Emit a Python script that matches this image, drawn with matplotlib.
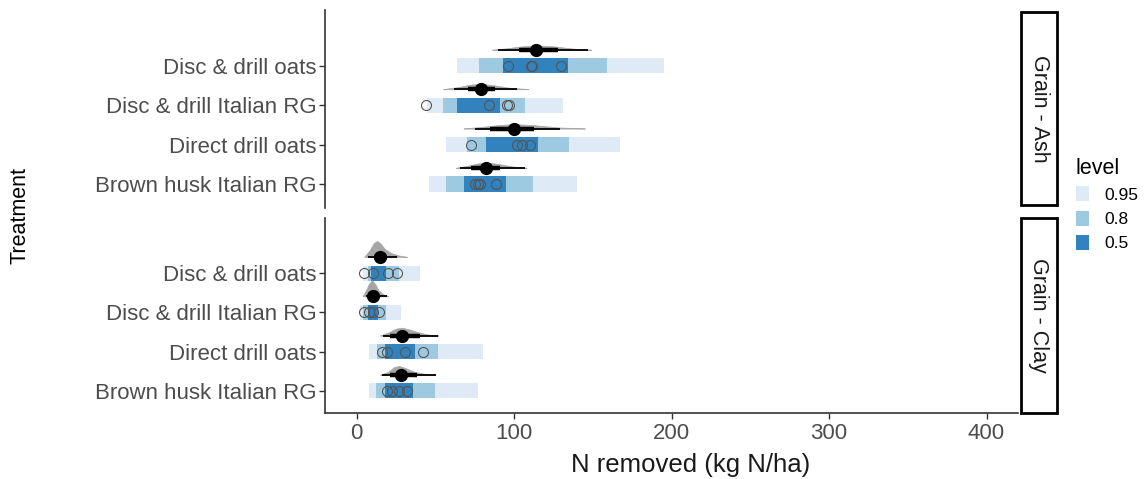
import matplotlib
matplotlib.use('Agg')
import matplotlib.pyplot as plt
from matplotlib.patches import Patch, Rectangle

plt.rcParams['font.family'] = ['Liberation Sans', 'DejaVu Sans']

W, H = 1146, 479

# Treatments, top to bottom
treatments = ['Disc & drill oats', 'Disc & drill Italian RG',
              'Direct drill oats', 'Brown husk Italian RG']
sites = ['Grain - Ash', 'Grain - Clay']

# interval bars: (lo, hi) for levels 0.95, 0.8, 0.5
ash_i95 = [(64, 195), (45, 131), (57, 167), (46, 140)]
ash_i80 = [(78, 159), (55, 107), (70, 135), (57, 112)]
ash_i50 = [(93, 134), (64, 91), (82, 115), (68, 95)]
clay_i95 = [(4, 40), (2.5, 28.5), (8, 80), (8, 77)]
clay_i80 = [(7, 27), (4, 18.5), (13, 52), (12.5, 50)]
clay_i50 = [(9, 18.5), (7, 13.5), (18, 37), (18, 36)]

# observed values
ash_obs = [[96, 110.5, 111.5, 130], [44, 84, 95.5, 97],
           [73, 102, 105, 110], [75, 77, 78.5, 88.5]]
clay_obs = [[5, 10.5, 20, 25.5], [5, 7.8, 10.6, 14.6],
            [16.5, 19.5, 30.5, 42.5], [19.5, 22.5, 27, 32]]

# posterior summary: median, 66% and 95% intervals
ash_med = [114, 79, 100, 82.5]
ash_q66 = [(103, 128), (71, 88), (85, 113), (73, 91)]
ash_q95 = [(90, 147), (62, 102), (75, 129), (65.5, 107)]
clay_med = [14.8, 10.4, 29.2, 28.3]
clay_q66 = [(11, 19.5), (8.5, 13), (21.5, 40.5), (21.5, 38.5)]
clay_q95 = [(7.5, 25.5), (6, 19.5), (17, 51.5), (16.5, 50.3)]

# posterior density outlines: x positions and heights (px above baseline)
ash_dens_x = [[86, 95, 105, 114, 125, 138, 149],
              [55, 64, 72, 79, 87, 97, 109],
              [68, 78, 90, 100, 112, 128, 145],
              [63, 70, 77, 83, 90, 99, 108]]
ash_dens_h = [[0.2, 1.5, 3.5, 4.5, 3.5, 1.2, 0.2],
              [0.2, 2, 4.5, 5.5, 4, 1.5, 0.2],
              [0.2, 1.5, 3.5, 4.5, 3.5, 1.2, 0.2],
              [0.2, 2, 4.5, 5.5, 4, 1.5, 0.2]]
clay_dens_x = [[5, 8, 11, 13, 15, 18, 22, 27, 32],
               [4, 6, 8, 10, 12, 14, 17, 20],
               [15, 20, 25, 29, 34, 40, 46, 52],
               [15, 20, 24, 27, 31, 37, 44, 50]]
clay_dens_h = [[0.5, 6, 14, 16, 14, 8, 4, 1.5, 0.3],
               [0.5, 6, 13, 16, 12, 6, 2, 0.3],
               [0.3, 3, 7, 8, 6, 3, 1, 0.3],
               [0.3, 3, 8, 9, 7, 3, 1, 0.3]]

x_ticks = [0, 100, 200, 300, 400]
levels = ['0.95', '0.8', '0.5']
level_colors = ['#DEEBF7', '#9ECAE1', '#3182BD']

ROW_PX = 39.3          # pixel height of one row
BAR_H = 15 / ROW_PX    # interval bar thickness
NUDGE = 16 / ROW_PX    # slab offset above bar
TXT = '#4D4D4D'

fig = plt.figure(figsize=(W / 100, H / 100), dpi=100)


def fig_rect(x0, y0, x1, y1):
    return [x0 / W, 1 - y1 / H, (x1 - x0) / W, (y1 - y0) / H]


panels = [
    (fig_rect(325, 10, 1018, 208), (0.39, 5.42), ash_i95, ash_i80, ash_i50,
     ash_obs, ash_med, ash_q66, ash_q95, ash_dens_x, ash_dens_h, (12, 205)),
    (fig_rect(325, 218, 1018, 413), (0.44, 5.40), clay_i95, clay_i80, clay_i50,
     clay_obs, clay_med, clay_q66, clay_q95, clay_dens_x, clay_dens_h, (218, 413)),
]

axes = []
for k, (rect, ylim, i95, i80, i50, obs, med, q66, q95, dx, dh, strip_y) in enumerate(panels):
    ax = fig.add_axes(rect)
    axes.append(ax)
    n = len(treatments)
    for j, name in enumerate(treatments):
        y = n - j
        for ivals, col in zip([i95, i80, i50], level_colors):
            lo, hi = ivals[j]
            ax.barh(y, hi - lo, left=lo, height=BAR_H, color=col, linewidth=0, zorder=1)
        ax.plot(obs[j], [y] * len(obs[j]), 'o', ms=7.2, mfc='none',
                mec='#555555', mew=0.8, zorder=3)
        yb = y + NUDGE
        top = [yb + h / ROW_PX for h in dh[j]]
        ax.fill_between(dx[j], yb, top, color='#A6A6A6', lw=0.5, zorder=2)
        ax.plot(q95[j], [yb, yb], color='black', lw=1.3, solid_capstyle='butt', zorder=4)
        ax.plot(q66[j], [yb, yb], color='black', lw=3.2, solid_capstyle='butt', zorder=4)
        ax.plot([med[j]], [yb], 'o', color='black', ms=8.5, zorder=5)

    ax.set_xlim(-20, 420)
    ax.set_ylim(*ylim)
    ax.set_yticks(range(n, 0, -1))
    ax.set_yticklabels(treatments, fontsize=16, color=TXT)
    ax.tick_params(axis='y', length=4, width=1, color='#333333', pad=2)
    for s in ['top', 'right']:
        ax.spines[s].set_visible(False)
    ax.spines['left'].set_color('#333333')
    ax.spines['left'].set_linewidth(1.2)
    if k == 0:
        ax.spines['bottom'].set_visible(False)
        ax.set_xticks([])
    else:
        ax.spines['bottom'].set_color('#333333')
        ax.spines['bottom'].set_linewidth(1.2)
        ax.set_xticks(x_ticks)
        ax.set_xticklabels([str(t) for t in x_ticks], fontsize=16, color=TXT)
        ax.tick_params(axis='x', length=4, width=1, color='#333333', pad=3)

    # facet strip on the right
    sy0, sy1 = strip_y
    fig.add_artist(Rectangle((1021 / W, 1 - sy1 / H), 36 / W, (sy1 - sy0) / H,
                             transform=fig.transFigure, facecolor='white',
                             edgecolor='black', linewidth=2))
    fig.text(1039 / W, 1 - (sy0 + sy1) / 2 / H, sites[k], rotation=-90,
             ha='center', va='center', fontsize=15.5, color='#1A1A1A')

fig.text(691 / W, 1 - 465 / H, 'N removed (kg N/ha)', ha='center', va='center',
         fontsize=18.5, color='#1A1A1A')
fig.text(20 / W, 1 - 215 / H, 'Treatment', rotation=90, ha='center', va='center',
         fontsize=15.5, color='black')

handles = [Patch(facecolor=c, edgecolor='none', label=l)
           for c, l in zip(level_colors, levels)]
leg = fig.legend(handles=handles, title='level', loc='upper left',
                 bbox_to_anchor=(1060 / W, 1 - 142 / H), frameon=False,
                 fontsize=12.5, title_fontsize=15.5, alignment='left',
                 handlelength=0.75, handleheight=0.95, handletextpad=0.9,
                 labelspacing=0.45, borderpad=0.4)

fig.savefig('out.png', dpi=100)
